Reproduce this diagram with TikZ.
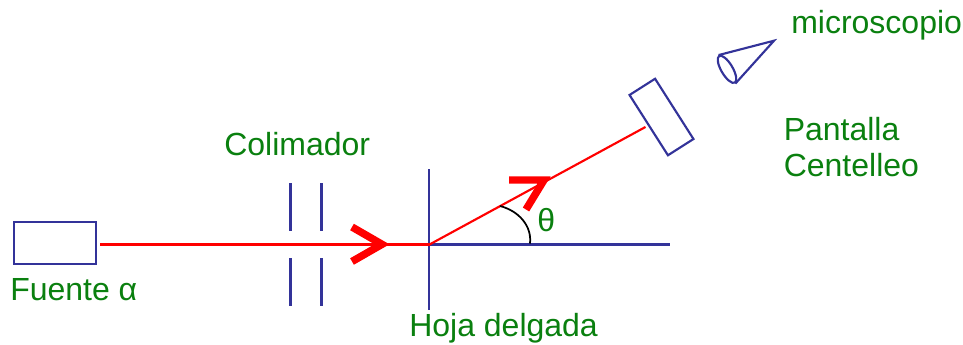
\documentclass[tikz,border=0pt]{standalone}
\usepackage{fontspec}
\setmainfont{Liberation Sans}
\usetikzlibrary{shapes.geometric}
\definecolor{lblgreen}{HTML}{0A800F}
\definecolor{partblue}{HTML}{333399}
\tikzset{
  lbl/.style={text=lblgreen,font=\fontsize{24}{28}\selectfont,inner sep=0pt,anchor=base west},
  part/.style={draw=partblue,line width=1.6pt,inner sep=0pt,fill=none},
  plate/.style={draw=partblue,line width=2.3pt},
  ray/.style={draw=red,line width=2.2pt},
  rayb/.style={draw=red,line width=1.6pt},
  chevron/.style={draw=red,line width=5.6pt,miter limit=10,line join=miter}
}
\begin{document}
\begin{tikzpicture}[x=0.75pt,y=-0.75pt]
\useasboundingbox (0,0) rectangle (963,344);
% parts
\node[part,rectangle,minimum width=61.5pt,minimum height=31.3pt] (source) at (55,243) {};
\coordinate (hit) at (429.5,244.5);
\coordinate (foiltop) at (429,169);
\coordinate (foilbot) at (429,309.5);
\coordinate (axisend) at (670,244.5);
\node[part,rectangle,rotate=-57.5,minimum width=53.6pt,minimum height=22.7pt] (screen) at (661.5,117) {};
\node[part,ellipse,rotate=-59.5,minimum width=23.2pt,minimum height=8.6pt] (eye) at (727,69.3) {};
\coordinate (apex) at (774,40.7);
% collimator
\draw[plate] (290.5,183) -- (290.5,231);
\draw[plate] (290.5,258) -- (290.5,306);
\draw[plate] (321.5,183) -- (321.5,231);
\draw[plate] (321.5,258) -- (321.5,306);
% foil and axis
\draw[draw=partblue,line width=2pt] (foiltop) -- (foilbot);
\draw[draw=partblue,line width=1.8pt] (hit) -- (axisend);
% microscope
\draw[part] (eye.west) -- (apex) -- (eye.east);
% rays
\draw[ray,shorten <=2.5pt] (source.east |- hit) -- (hit);
\draw[rayb,shorten >=2pt] (hit) -- (screen.south);
% arrowheads
\draw[chevron] (352,227) -- (382,244.3) -- (352,261.5);
\draw[chevron] (509,180) -- (544,180) -- (526,209.5);
% angle
\coordinate (arcA) at (500,206);
\coordinate (arcB) at (530,243.5);
\draw[black,line width=1.3pt] (arcA) .. controls (519,211) and (532,226) .. (arcB);
% labels
\node[lbl] (lcol) at (224,155) {Colimador};
\node[lbl] (lsrc) at (10,300) {Fuente α};
\node[lbl] (lfoil) at (409,336) {Hoja delgada};
\node[lbl] (lth) at (537,231) {θ};
\node[lbl] (lmic) at (791,33) {microscopio};
\node[lbl] (lpan) at (783.5,140) {Pantalla};
\node[lbl] (lcen) at (783.5,176) {Centelleo};
\end{tikzpicture}
\end{document}
